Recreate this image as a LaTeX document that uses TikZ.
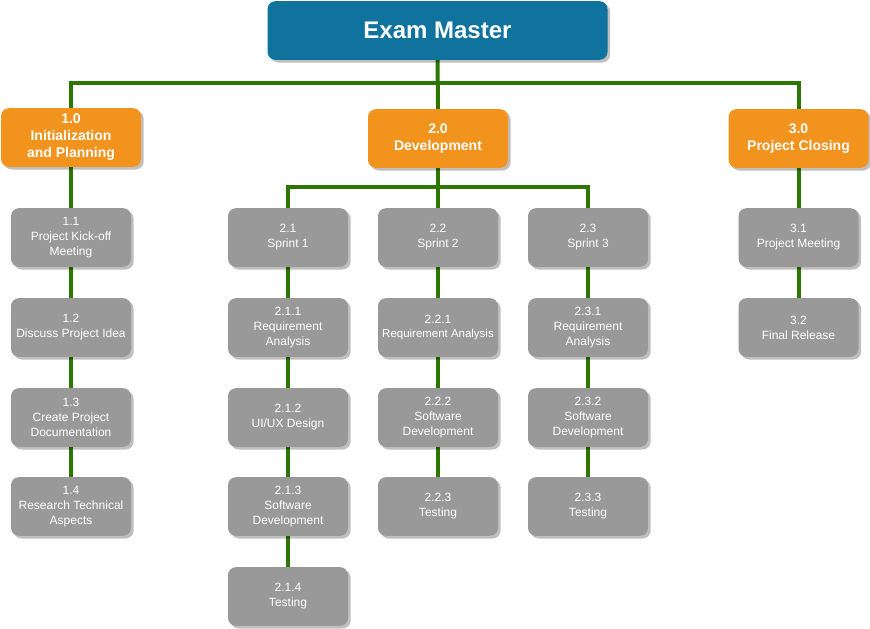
\documentclass[tikz,border=0pt]{standalone}
\usepackage{fontspec}
\setmainfont{Liberation Sans}
\usetikzlibrary{backgrounds,shadows}
\definecolor{titleblue}{HTML}{10739E}
\definecolor{phaseorange}{HTML}{F2931E}
\definecolor{taskgray}{HTML}{999999}
\definecolor{linkgreen}{HTML}{2D7600}
\tikzset{
  wbsbox/.style={rounded corners=6pt, draw=none, text=white, align=center,
    inner sep=1pt, drop shadow={shadow xshift=2pt, shadow yshift=-2pt,
    opacity=0.25, fill=black}},
  titlebox/.style={wbsbox, fill=titleblue, minimum width=255pt,
    minimum height=44pt, font=\fontsize{18}{21}\selectfont\bfseries},
  phasebox/.style={wbsbox, fill=phaseorange, minimum width=105pt,
    minimum height=44pt, font=\fontsize{10.5}{12.75}\selectfont\bfseries},
  taskbox/.style={wbsbox, fill=taskgray, minimum width=90pt,
    minimum height=44pt, font=\fontsize{9}{11.2}\selectfont},
  link/.style={draw=linkgreen, line width=3pt}
}
\begin{document}
\begin{tikzpicture}[x=0.75pt,y=-0.75pt]
  \useasboundingbox (0,0) rectangle (870,628);

  % Root and phases
  \node[titlebox] (root) at (437.5,30.5) {Exam Master};
  \node[phasebox] (p1) at (71,137.5) {1.0\\Initialization\\and Planning};
  \node[phasebox] (p2) at (438,138.5) {2.0\\Development};
  \node[phasebox] (p3) at (798.5,138.5) {3.0\\Project Closing};
  \coordinate (hub0) at (438,83);
  \coordinate (hub2) at (438,187);

  % Phase 1 tasks
  \node[taskbox] (t11) at (71,237.5) {1.1\\Project Kick-off\\Meeting};
  \node[taskbox] (t12) at (71,327.5) {1.2\\Discuss Project Idea};
  \node[taskbox] (t13) at (71,417.5) {1.3\\Create Project\\Documentation};
  \node[taskbox] (t14) at (71,506.5) {1.4\\Research Technical\\Aspects};

  % Phase 2 sprints
  \node[taskbox] (s1) at (288,237.5) {2.1\\Sprint 1};
  \node[taskbox] (s2) at (438,237.5) {2.2\\Sprint 2};
  \node[taskbox] (s3) at (588,237.5) {2.3\\Sprint 3};
  \node[taskbox] (t211) at (288,327.5) {2.1.1\\Requirement\\Analysis};
  \node[taskbox] (t212) at (288,417.5) {2.1.2\\UI/UX Design};
  \node[taskbox] (t213) at (288,506.5) {2.1.3\\Software\\Development};
  \node[taskbox] (t214) at (288,596.5) {2.1.4\\Testing};
  \node[taskbox] (t221) at (438,327.5)
    {2.2.1\\{\fontsize{8.6}{11.2}\selectfont Requirement Analysis}};
  \node[taskbox] (t222) at (438,417.5) {2.2.2\\Software\\Development};
  \node[taskbox] (t223) at (438,506.5) {2.2.3\\Testing};
  \node[taskbox] (t231) at (588,327.5) {2.3.1\\Requirement\\Analysis};
  \node[taskbox] (t232) at (588,417.5) {2.3.2\\Software\\Development};
  \node[taskbox] (t233) at (588,506.5) {2.3.3\\Testing};

  % Phase 3 tasks
  \node[taskbox] (t31) at (798.5,237.5) {3.1\\Project Meeting};
  \node[taskbox] (t32) at (798.5,327.5) {3.2\\Final Release};

  \begin{scope}[on background layer]
    \draw[link] (root.south) -- (p2.north);
    \draw[link] (p1.north) |- (hub0) -| (p3.north);
    \draw[link] (p2.south) -- (s2.north);
    \draw[link] (s1.north) |- (hub2) -| (s3.north);
    \draw[link] (p1) -- (t11) -- (t12) -- (t13) -- (t14);
    \draw[link] (s1) -- (t211) -- (t212) -- (t213) -- (t214);
    \draw[link] (s2) -- (t221) -- (t222) -- (t223);
    \draw[link] (s3) -- (t231) -- (t232) -- (t233);
    \draw[link] (p3) -- (t31) -- (t32);
  \end{scope}
\end{tikzpicture}
\end{document}
